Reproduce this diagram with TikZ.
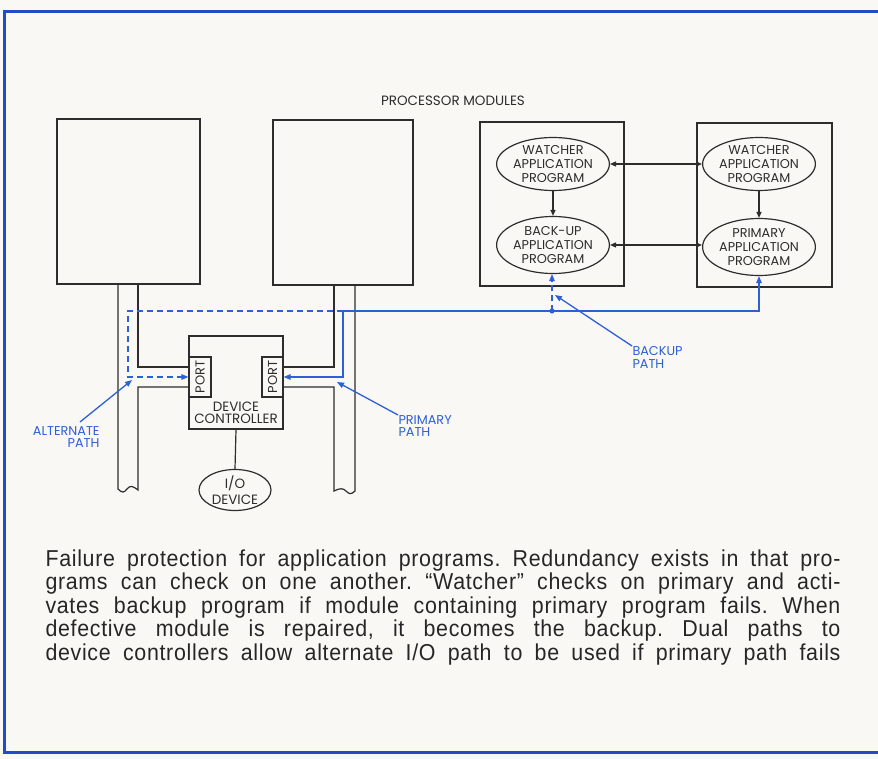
\documentclass[tikz,border=0pt]{standalone}
\usepackage{fontspec}
\usetikzlibrary{shapes.geometric,arrows.meta,calc}
\newfontfamily\lblfont{Poppins}
\newfontfamily\capfont[FakeStretch=0.93,LetterSpace=3]{Liberation Sans}
\definecolor{pblue}{RGB}{45,95,215}
\definecolor{fblue}{RGB}{35,75,200}
\definecolor{ink}{RGB}{45,45,45}
\definecolor{paper}{RGB}{250,248,244}
\begin{document}
\frenchspacing
\begin{tikzpicture}[x=1pt,y=-1pt,line width=1pt,
  module/.style={draw=ink,line width=1.3pt,inner sep=0pt},
  prog/.style={ellipse,draw=ink,line width=1.2pt,inner sep=0pt,align=center,
    font=\lblfont\fontsize{12.8}{14}\selectfont,text=ink},
  portbox/.style={draw=ink,line width=1.2pt,inner sep=0pt,minimum width=22pt,minimum height=40pt,
    font=\lblfont\fontsize{13}{14}\selectfont,text=ink},
  wire/.style={draw=ink,line width=1.2pt},
  tipk/.style={-{Triangle[length=6pt,width=5pt]}},
  dtipk/.style={{Triangle[length=6pt,width=5pt]}-{Triangle[length=6pt,width=5pt]}},
  bwire/.style={draw=pblue,line width=1.3pt},
  bdash/.style={draw=pblue,line width=1.3pt,dash pattern=on 6pt off 4pt},
  btip/.style={-{Triangle[length=7pt,width=5.5pt]}},
  blbl/.style={text=pblue,font=\lblfont\fontsize{12.8}{12.5}\selectfont,inner sep=0pt},
  captxt/.style={font=\capfont\fontsize{23}{24}\selectfont,text=black!85,inner sep=0pt}
]
\useasboundingbox (0,0) rectangle (878,759);
\fill[paper] (0,0) rectangle (878,759);
% frame
\draw[fblue,line width=3pt] (878,12) -- (4,12) -- (4,752) -- (878,752);

% title
\node[font=\lblfont\fontsize{13.5}{14}\selectfont,text=ink] (title) at (453,101) {PROCESSOR MODULES};

% processor modules
\node[module,minimum width=143pt,minimum height=165pt] (m1) at (128.5,201.5) {};
\node[module,minimum width=140pt,minimum height=165pt] (m2) at (343,202.5) {};
\node[module,minimum width=144pt,minimum height=164pt] (m3) at (552,204) {};
\node[module,minimum width=135pt,minimum height=164pt] (m4) at (764.5,205) {};

% programs
\node[prog,minimum width=102pt,minimum height=53pt] (w1) at (553,164) {WATCHER\\APPLICATION\\PROGRAM};
\node[prog,minimum width=102pt,minimum height=57pt] (b1) at (553,245) {BACK-UP\\APPLICATION\\PROGRAM};
\node[prog,minimum width=98pt,minimum height=53pt] (w2) at (759,164) {WATCHER\\APPLICATION\\PROGRAM};
\node[prog,minimum width=98pt,minimum height=57pt] (p2) at (759,247) {PRIMARY\\APPLICATION\\PROGRAM};

\draw[wire,dtipk] (w1.east) -- (w1.east -| w2.west);
\draw[wire,dtipk] (b1.east) -- (b1.east -| p2.west);
\draw[wire,tipk] (w1.south) -- (b1.north);
\draw[wire,tipk] (w2.south) -- (p2.north);

% device controller
\node[module,line width=1.2pt,minimum width=94pt,minimum height=93pt] (dc) at (236,382.5) {};
\node[portbox] (pL) at (200,377) {\rotatebox{90}{PORT}};
\node[portbox,minimum width=21pt] (pR) at (272.5,377) {\rotatebox{90}{PORT}};
\node[font=\lblfont\fontsize{13.5}{12}\selectfont,text=ink,align=center,inner sep=0pt] (dct) at (236,413) {DEVICE\\CONTROLLER};
\node[ellipse,draw=ink,line width=1.2pt,inner sep=0pt,minimum width=72pt,minimum height=41pt,align=center,
  font=\lblfont\fontsize{13.5}{16}\selectfont,text=ink] (io) at (235,490) {I/O\\DEVICE};
\draw[wire] (dc.south) -- (io.north);

% left bus
\coordinate (l1) at (118,284);
\coordinate (l2) at (138,284);
\draw[wire] (l1) -- (118,489) .. controls (122,493) and (124,493) .. (127,489)
  .. controls (130,485) and (133,486) .. (138,490) -- (138,387) -- (pL.west |- 0,387);
\draw[wire] (l2) -- (138,367) -- (pL.west |- 0,367);
% right bus
\coordinate (r1) at (334,285);
\coordinate (r2) at (355,285);
\draw[wire] (r2) -- (355,491) .. controls (351,495) and (349,494) .. (346,491)
  .. controls (343,488) and (340,488) .. (334,491) -- (334,387) -- (pR.east |- 0,387);
\draw[wire] (r1) -- (334,367) -- (pR.east |- 0,367);

% blue paths
\coordinate (jn) at (343,311);
\coordinate (dot) at (552,311);
\draw[bwire,{Triangle[length=7pt,width=5.5pt]}-{Triangle[length=7pt,width=5.5pt]}]
  (pR.east) -- (jn |- pR.east) -- (jn) -- (p2.south |- jn) -- (p2.south);
\draw[bdash,btip] (dot) -- (b1.south -| dot);
\draw[bdash,btip] (jn) -- (128,311) -- (128,377) -- (pL.west);
\fill[pblue] (dot) circle (2.6pt);

% blue labels
\node[blbl,align=right,anchor=north east] (alt) at (100,426) {ALTERNATE\\PATH};
\coordinate (altend) at (80,422);
\coordinate (alttip) at (132,380);
\draw[bwire,btip] (altend) -- (alttip);

\node[blbl,align=left,anchor=north west] (pri) at (398,415) {PRIMARY\\PATH};
\coordinate (pritip) at (337,382);
\draw[bwire,btip] (pri.north west) -- (pritip);

\node[blbl,align=left,anchor=north west] (bak) at (632,346) {BACKUP\\PATH};
\coordinate (baktip) at (555,295);
\draw[bwire,btip] (bak.north west) -- (baktip);

% caption
\node[captxt,anchor=base west] (c1) at (45,566) {\makebox[795pt][s]{Failure protection for application programs. Redundancy exists in that pro-}};
\node[captxt,anchor=base west] (c2) at (45,589.5) {\makebox[795pt][s]{grams can check on one another. “Watcher” checks on primary and acti-}};
\node[captxt,anchor=base west] (c3) at (45,613) {\makebox[795pt][s]{vates backup program if module containing primary program fails. When}};
\node[captxt,anchor=base west] (c4) at (45,636.5) {\makebox[795pt][s]{defective module is repaired, it becomes the backup. Dual paths to}};
\node[captxt,anchor=base west] (c5) at (45,660) {\makebox[795pt][s]{device controllers allow alternate I/O path to be used if primary path fails}};
\end{tikzpicture}
\end{document}
